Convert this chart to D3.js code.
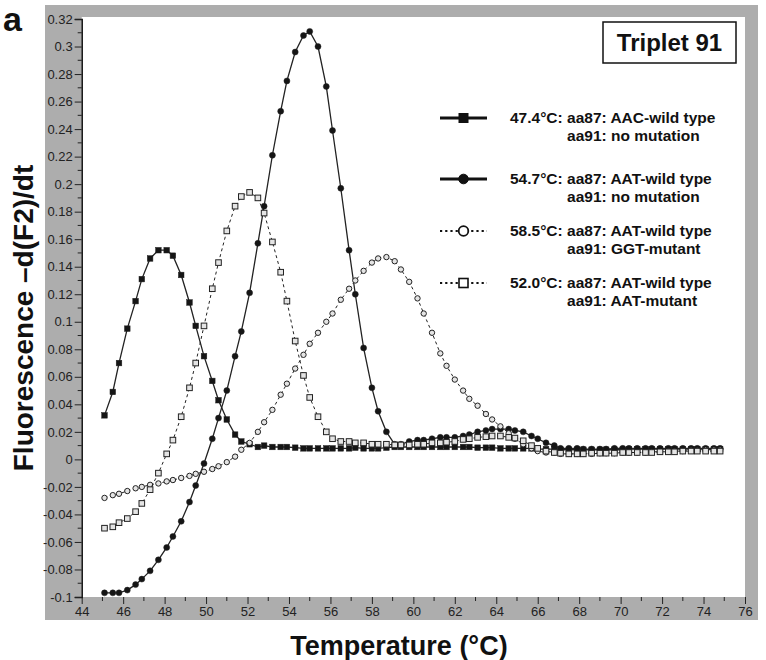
<!DOCTYPE html>
<html lang="en">
<head>
    <meta charset="UTF-8">
    <title>Triplet 91 melting curves</title>
    <script src="https://d3js.org/d3.v7.min.js"></script>
    <style>
        body {
            margin: 0;
            padding: 0;
            background: #fff;
            font-family: "Liberation Sans", Arial, sans-serif;
        }
        .tick-label {
            font-family: "Liberation Sans Narrow", "Arial Narrow", "Liberation Sans", sans-serif;
            font-size: 13px;
            fill: #222;
        }
        .legend-text {
            font-size: 15.5px;
            font-weight: bold;
            fill: #111;
        }
    </style>
</head>
<body>
    <svg id="chart" width="766" height="660"></svg>

    <script>
        // Data (temperature in °C, -d(F2)/dt)
        const temps = [45.1, 45.5, 45.8, 46.2, 46.6, 46.9, 47.3, 47.7, 48.1, 48.4,
                       48.8, 49.2, 49.5, 49.9, 50.3, 50.6, 51.0, 51.4, 51.7, 52.1,
                       52.5, 52.8, 53.2, 53.6, 53.9, 54.3, 54.7, 55.0, 55.4, 55.8,
                       56.1, 56.5, 56.9, 57.2, 57.6, 58.0, 58.3, 58.7, 59.1, 59.4,
                       59.8, 60.2, 60.5, 60.9, 61.3, 61.6, 62.0, 62.4, 62.7, 63.1,
                       63.5, 63.8, 64.2, 64.6, 64.9, 65.3, 65.7, 66.0, 66.4, 66.8,
                       67.1, 67.5, 67.9, 68.2, 68.6, 69.0, 69.3, 69.7, 70.1, 70.4,
                       70.8, 71.2, 71.5, 71.9, 72.3, 72.6, 73.0, 73.4, 73.7, 74.1,
                       74.5, 74.8];

        // 47.4°C: aa87 AAC-wild type, aa91 no mutation (filled squares)
        const aacWild = [0.032, 0.049, 0.070, 0.095, 0.115, 0.131, 0.146, 0.152, 0.152, 0.148,
                         0.134, 0.114, 0.097, 0.075, 0.057, 0.043, 0.029, 0.018, 0.013, 0.011,
                         0.009, 0.010, 0.009, 0.009, 0.009, 0.0085, 0.008, 0.008, 0.008, 0.008,
                         0.008, 0.008, 0.008, 0.0085, 0.008, 0.008, 0.008, 0.0085, 0.009, 0.009,
                         0.009, 0.009, 0.009, 0.009, 0.009, 0.009, 0.009, 0.009, 0.009, 0.0085,
                         0.0085, 0.0085, 0.008, 0.008, 0.008, 0.008, 0.008, 0.0075, 0.0075, 0.0075,
                         0.007, 0.007, 0.007, 0.007, 0.007, 0.007, 0.007, 0.007, 0.007, 0.0075,
                         0.0075, 0.0075, 0.0075, 0.0075, 0.0075, 0.0075, 0.0075, 0.0075, 0.0075, 0.0075,
                         0.0075, 0.0075];

        // 54.7°C: aa87 AAT-wild type, aa91 no mutation (filled circles)
        const aatWild = [-0.097, -0.097, -0.097, -0.095, -0.091, -0.087, -0.081, -0.073, -0.064, -0.056,
                         -0.045, -0.031, -0.019, -0.003, 0.015, 0.030, 0.050, 0.075, 0.093, 0.121,
                         0.157, 0.184, 0.221, 0.253, 0.275, 0.296, 0.308, 0.311, 0.300, 0.271,
                         0.239, 0.197, 0.152, 0.120, 0.081, 0.052, 0.035, 0.020, 0.011, 0.011,
                         0.013, 0.014, 0.014, 0.015, 0.016, 0.016, 0.016, 0.017, 0.018, 0.020,
                         0.021, 0.022, 0.022, 0.022, 0.021, 0.020, 0.017, 0.015, 0.012, 0.010,
                         0.008, 0.008, 0.008, 0.0075, 0.0075, 0.0075, 0.0075, 0.008, 0.008, 0.008,
                         0.008, 0.008, 0.008, 0.008, 0.008, 0.008, 0.008, 0.008, 0.008, 0.008,
                         0.008, 0.008];

        // 58.5°C: aa87 AAT-wild type, aa91 GGT-mutant (open circles)
        const ggtMutant = [-0.028, -0.026, -0.025, -0.023, -0.021, -0.020, -0.0185, -0.0175, -0.016, -0.015,
                           -0.0135, -0.012, -0.0105, -0.009, -0.007, -0.005, -0.002, 0.002, 0.007, 0.012,
                           0.020, 0.027, 0.036, 0.047, 0.055, 0.066, 0.076, 0.084, 0.092, 0.100,
                           0.106, 0.116, 0.124, 0.130, 0.137, 0.143, 0.146, 0.147, 0.144, 0.138,
                           0.129, 0.117, 0.106, 0.092, 0.077, 0.068, 0.058, 0.050, 0.044, 0.039,
                           0.033, 0.029, 0.024, 0.019, 0.015, 0.011, 0.008, 0.006, 0.005, 0.005,
                           0.004, 0.004, 0.004, 0.004, 0.004, 0.0045, 0.0045, 0.0045, 0.005, 0.005,
                           0.005, 0.005, 0.0055, 0.0055, 0.006, 0.006, 0.006, 0.0065, 0.0065, 0.007,
                           0.007, 0.007];

        // 52.0°C: aa87 AAT-wild type, aa91 AAT-mutant (open squares)
        const aatMutant = [-0.050, -0.049, -0.046, -0.043, -0.038, -0.032, -0.022, -0.010, 0.004, 0.014,
                           0.031, 0.052, 0.070, 0.097, 0.124, 0.143, 0.166, 0.184, 0.191, 0.194,
                           0.190, 0.179, 0.158, 0.136, 0.115, 0.086, 0.061, 0.045, 0.031, 0.020,
                           0.015, 0.013, 0.013, 0.012, 0.012, 0.011, 0.011, 0.011, 0.0105, 0.0105,
                           0.0105, 0.011, 0.011, 0.012, 0.012, 0.0125, 0.013, 0.0145, 0.015, 0.016,
                           0.0165, 0.017, 0.017, 0.016, 0.0155, 0.0135, 0.010, 0.008, 0.006, 0.005,
                           0.0045, 0.004, 0.004, 0.004, 0.0045, 0.0045, 0.0045, 0.0045, 0.005, 0.005,
                           0.005, 0.005, 0.005, 0.0055, 0.0055, 0.0055, 0.006, 0.006, 0.006, 0.006,
                           0.006, 0.006];

        const xTicks = [44, 46, 48, 50, 52, 54, 56, 58, 60, 62, 64, 66, 68, 70, 72, 74, 76];
        const yTicks = [-0.1, -0.08, -0.06, -0.04, -0.02, 0, 0.02, 0.04, 0.06, 0.08, 0.1,
                        0.12, 0.14, 0.16, 0.18, 0.2, 0.22, 0.24, 0.26, 0.28, 0.3, 0.32];

        const legendLabels = [
            ["47.4°C: ", "aa87: AAC-wild type", "aa91: no mutation"],
            ["54.7°C: ", "aa87: AAT-wild type", "aa91: no mutation"],
            ["58.5°C: ", "aa87: AAT-wild type", "aa91: GGT-mutant"],
            ["52.0°C: ", "aa87: AAT-wild type", "aa91: AAT-mutant"]
        ];

        const svg = d3.select("#chart");

        const x = d3.scaleLinear().domain([44, 76]).range([81.7, 745]);
        const y = d3.scaleLinear().domain([-0.1, 0.32]).range([597, 19]);

        // grey frame + white plotting area
        svg.append("rect")
            .attr("x", 45).attr("y", 5)
            .attr("width", 713).attr("height", 615)
            .attr("fill", "#adadad");
        svg.append("rect")
            .attr("x", x(44)).attr("y", 17)
            .attr("width", x(76) - x(44)).attr("height", y(-0.1) - 17)
            .attr("fill", "#fff");

        // minor ticks
        const xMinor = xTicks.slice(0, -1).map(d => d + 1);
        const yMinor = yTicks.slice(0, -1).map(d => d + 0.01);

        svg.append("g")
            .selectAll("line")
            .data(xMinor)
            .join("line")
            .attr("x1", d => x(d)).attr("x2", d => x(d))
            .attr("y1", y(-0.1)).attr("y2", y(-0.1) + 4)
            .attr("stroke", "#222");
        svg.append("g")
            .selectAll("line")
            .data(yMinor)
            .join("line")
            .attr("x1", x(44) - 4).attr("x2", x(44))
            .attr("y1", d => y(d)).attr("y2", d => y(d))
            .attr("stroke", "#222");

        // axes
        const xAxis = svg.append("g")
            .attr("transform", `translate(0,${y(-0.1)})`)
            .call(d3.axisBottom(x).tickValues(xTicks).tickSize(7).tickPadding(3).tickFormat(d => d));
        xAxis.select(".domain").remove();

        const yAxis = svg.append("g")
            .attr("transform", `translate(${x(44)},0)`)
            .call(d3.axisLeft(y).tickValues(yTicks).tickSize(7).tickPadding(2)
                .tickFormat(d => String(+d.toFixed(2))));
        yAxis.select(".domain").attr("stroke", "#111").attr("stroke-width", 1.5);

        svg.selectAll(".tick line").attr("stroke", "#222");
        svg.selectAll(".tick text").attr("class", "tick-label").attr("font-family", null).attr("font-size", null);

        // series
        const series = [
            { values: aacWild, marker: "square", filled: true, dash: null },
            { values: aatWild, marker: "circle", filled: true, dash: null },
            { values: ggtMutant, marker: "circle", filled: false, dash: "3,3" },
            { values: aatMutant, marker: "square", filled: false, dash: "3,3" }
        ];

        const line = d3.line()
            .x(d => x(d[0]))
            .y(d => y(d[1]));

        series.forEach(s => {
            const pts = temps.map((t, i) => [t, s.values[i]]);

            svg.append("path")
                .datum(pts)
                .attr("fill", "none")
                .attr("stroke", "#222")
                .attr("stroke-width", s.filled ? 1.3 : 1)
                .attr("stroke-dasharray", s.dash)
                .attr("d", line);

            const g = svg.append("g");
            if (s.marker === "square") {
                g.selectAll("rect")
                    .data(pts)
                    .join("rect")
                    .attr("x", d => x(d[0]) - 2.8)
                    .attr("y", d => y(d[1]) - 2.8)
                    .attr("width", 5.6).attr("height", 5.6)
                    .attr("fill", s.filled ? "#151515" : "#e4e4e4")
                    .attr("stroke", "#222")
                    .attr("stroke-width", s.filled ? 0.5 : 1);
            } else {
                g.selectAll("circle")
                    .data(pts)
                    .join("circle")
                    .attr("cx", d => x(d[0]))
                    .attr("cy", d => y(d[1]))
                    .attr("r", s.filled ? 3 : 2.7)
                    .attr("fill", s.filled ? "#151515" : "#e4e4e4")
                    .attr("stroke", "#222")
                    .attr("stroke-width", s.filled ? 0.5 : 1);
            }
        });

        // "Triplet 91" box
        svg.append("rect")
            .attr("x", 603).attr("y", 22)
            .attr("width", 133).attr("height", 41)
            .attr("fill", "#fff")
            .attr("stroke", "#111")
            .attr("stroke-width", 1.5);
        svg.append("text")
            .attr("x", 669.5).attr("y", 51)
            .attr("text-anchor", "middle")
            .attr("font-size", 24)
            .attr("font-weight", "bold")
            .attr("fill", "#111")
            .text("Triplet 91");

        // legend
        const legendRows = [123, 184, 236, 288];
        const legend = svg.append("g");
        series.forEach((s, i) => {
            const cy = legendRows[i] - 5;
            legend.append("line")
                .attr("x1", 440).attr("x2", 487)
                .attr("y1", cy).attr("y2", cy)
                .attr("stroke", "#111")
                .attr("stroke-width", s.filled ? 3 : 2.2)
                .attr("stroke-dasharray", s.filled ? null : "2.2,3");
            if (s.marker === "square") {
                legend.append("rect")
                    .attr("x", 459).attr("y", cy - 4.5)
                    .attr("width", 9).attr("height", 9)
                    .attr("fill", s.filled ? "#111" : "#fff")
                    .attr("stroke", "#111").attr("stroke-width", s.filled ? 1 : 1.6);
            } else {
                legend.append("circle")
                    .attr("cx", 463.5).attr("cy", cy)
                    .attr("r", 4.8)
                    .attr("fill", s.filled ? "#111" : "#fff")
                    .attr("stroke", "#111").attr("stroke-width", s.filled ? 1 : 1.8);
            }
            const first = legend.append("text")
                .attr("class", "legend-text")
                .attr("x", 510).attr("y", legendRows[i]);
            const head = first.append("tspan").text(legendLabels[i][0]);
            first.append("tspan").text(legendLabels[i][1]);
            const indent = head.node().getComputedTextLength();
            legend.append("text")
                .attr("class", "legend-text")
                .attr("x", 510 + indent).attr("y", legendRows[i] + 18)
                .text(legendLabels[i][2]);
        });

        // axis titles
        svg.append("text")
            .attr("x", 399).attr("y", 655)
            .attr("text-anchor", "middle")
            .attr("font-size", 27)
            .attr("font-weight", "bold")
            .attr("fill", "#111")
            .text("Temperature (°C)");

        svg.append("text")
            .attr("transform", "translate(33,318) rotate(-90)")
            .attr("text-anchor", "middle")
            .attr("font-size", 28)
            .attr("font-weight", "bold")
            .attr("fill", "#111")
            .text("Fluorescence \u2013d(F2)/dt");

        // panel letter
        svg.append("text")
            .attr("x", 3).attr("y", 31)
            .attr("font-size", 34)
            .attr("font-weight", "bold")
            .attr("fill", "#111")
            .text("a");
    </script>
</body>
</html>
